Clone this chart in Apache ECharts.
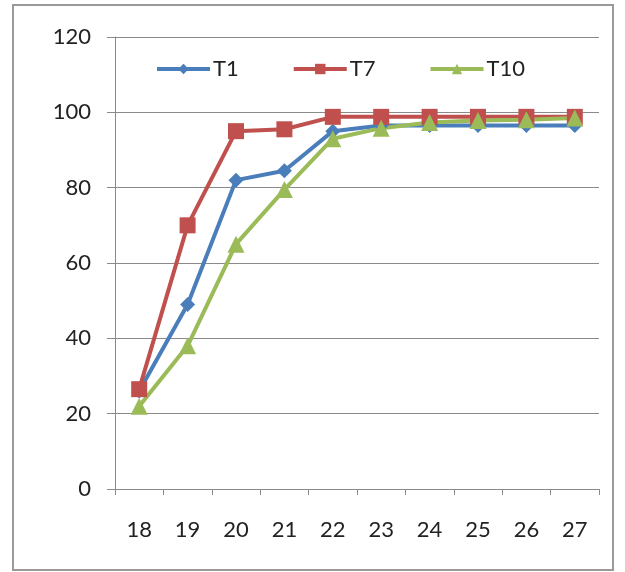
<!DOCTYPE html>
<html>
<head>
<meta charset="utf-8">
<script src="https://cdn.jsdelivr.net/npm/echarts@6/dist/echarts.min.js"></script>
<style>
html,body{margin:0;padding:0;background:#fff;}
#chart{width:625px;height:572px;}
</style>
</head>
<body>
<div id="chart"></div>
<script>
var categories = ['18','19','20','21','22','23','24','25','26','27'];
var t1 = [26, 49, 82, 84.5, 95, 96.5, 96.5, 96.5, 96.5, 96.5];
var t7 = [26.5, 70, 95, 95.5, 98.8, 98.8, 98.8, 98.8, 98.8, 98.8];
var t10 = [22, 38, 65, 79.5, 93, 95.8, 97.3, 97.8, 98, 98.5];
var seriesNames = ['T1', 'T7', 'T10'];
var yTicks = [0, 20, 40, 60, 80, 100, 120];

var chart = echarts.init(document.getElementById('chart'));
var font = 'Lato, "Open Sans", sans-serif';
var axisGrey = '#8a8a8a';
chart.setOption({
  animation: false,
  backgroundColor: '#ffffff',
  graphic: [{
    type: 'rect',
    shape: {x: 13, y: 5, width: 600, height: 565},
    style: {fill: 'none', stroke: '#9a9a9a', lineWidth: 2},
    silent: true
  }],
  grid: {left: 115, right: 26, top: 37, bottom: 83},
  legend: {
    data: seriesNames,
    left: 150,
    top: 53,
    itemWidth: 53,
    itemHeight: 13,
    itemGap: 53,
    lineStyle: {width: 4},
    textStyle: {fontFamily: font, fontSize: 22, color: '#222', padding: [0, 0, 0, -2]}
  },
  xAxis: {
    type: 'category',
    data: categories,
    boundaryGap: true,
    axisLine: {lineStyle: {color: axisGrey, width: 1}},
    axisTick: {show: true, length: 6, lineStyle: {color: axisGrey}},
    axisLabel: {fontFamily: font, fontSize: 22, color: '#222', margin: 30},
    splitLine: {show: false}
  },
  yAxis: {
    type: 'value',
    min: yTicks[0],
    max: yTicks[yTicks.length - 1],
    interval: 20,
    axisLine: {show: true, lineStyle: {color: axisGrey, width: 1}},
    axisTick: {show: true, length: 8, lineStyle: {color: axisGrey}},
    axisLabel: {fontFamily: font, fontSize: 22, color: '#222', margin: 24},
    splitLine: {show: true, lineStyle: {color: axisGrey, width: 1}}
  },
  series: [
    {name: seriesNames[0], type: 'line', data: t1, color: '#4A7EBB',
     lineStyle: {width: 4}, symbol: 'diamond', symbolSize: 15, showAllSymbol: true},
    {name: seriesNames[1], type: 'line', data: t7, color: '#C0504D',
     lineStyle: {width: 4}, symbol: 'rect', symbolSize: 16, showAllSymbol: true},
    {name: seriesNames[2], type: 'line', data: t10, color: '#9BBB59',
     lineStyle: {width: 4}, symbol: 'triangle', symbolSize: 17, showAllSymbol: true}
  ]
});
</script>
</body>
</html>
